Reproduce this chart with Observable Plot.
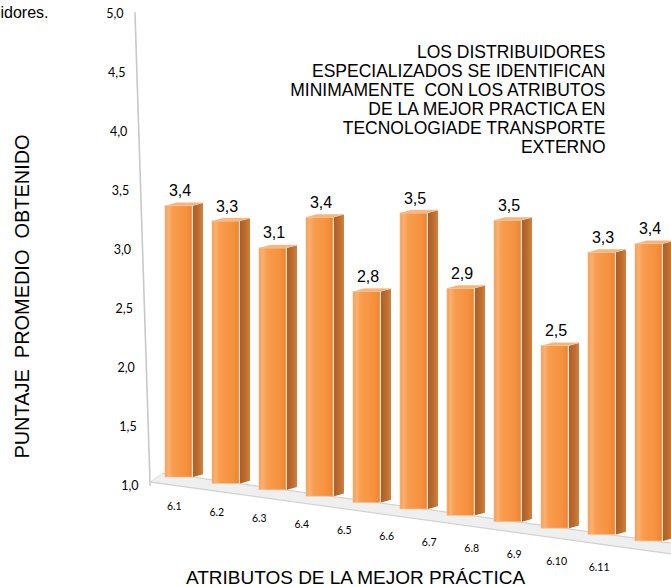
<!DOCTYPE html>
<html>
<head>
<meta charset="utf-8">
<script src="https://cdn.jsdelivr.net/npm/d3@7"></script>
<script src="https://cdn.jsdelivr.net/npm/@observablehq/plot@0.6"></script>
<style>
  html, body { margin: 0; padding: 0; background: #ffffff; }
  #chart svg { display: block; }
</style>
</head>
<body>
<div id="chart"></div>
<script>
// ---------- data ----------
const categories = ["6.1", "6.2", "6.3", "6.4", "6.5", "6.6", "6.7", "6.8", "6.9", "6.10", "6.11"];
const values = [3.4, 3.3, 3.1, 3.4, 2.8, 3.5, 2.9, 3.5, 2.5, 3.3, 3.4];
const yTicks = [1.0, 1.5, 2.0, 2.5, 3.0, 3.5, 4.0, 4.5, 5.0];
const annotationLines = [
  "LOS DISTRIBUIDORES",
  "ESPECIALIZADOS SE IDENTIFICAN",
  "MINIMAMENTE  CON LOS ATRIBUTOS",
  "DE LA MEJOR PRACTICA EN",
  "TECNOLOGIADE TRANSPORTE",
  "EXTERNO"
];
const yTitle = "PUNTAJE  PROMEDIO  OBTENIDO";
const xTitle = "ATRIBUTOS DE LA MEJOR PRÁCTICA";
const fragment = "idores.";

// ---------- build ----------
const data = categories.map((c, i) => ({cat: c, value: values[i]}));
const fmt = d => d.toFixed(1).replace(".", ",");
const ARIAL = "'Liberation Sans', Arial, sans-serif";
const CAL = "Lato, 'Open Sans', sans-serif";

const plot = Plot.plot({
  width: 671,
  height: 587,
  marginTop: 13,
  marginBottom: 102,
  marginLeft: 135,
  marginRight: 0,
  style: {background: "#ffffff", color: "#000000"},
  x: {type: "band", domain: categories, range: [151, 678], padding: 0, axis: null},
  y: {domain: [1, 5], axis: null},
  marks: [
    // back-wall left edge
    Plot.frame({anchor: "left", stroke: "#c8c8c8", strokeWidth: 1.6}),
    // floor
    Plot.rect([0], {y1: 1, y2: 1, insetTop: -12, insetBottom: 3, insetLeft: 15,
      fill: "#efefef", stroke: "#d2d2d2", strokeWidth: 1}),
    // bar side faces
    Plot.barY(data, {x: "cat", y1: 1, y2: "value", insetLeft: 36.9, insetRight: 0,
      fill: "url(#sideGrad)"}),
    // bar front faces
    Plot.barY(data, {x: "cat", y1: 1, y2: "value", insetLeft: 9, insetRight: 11,
      fill: "url(#frontGrad)", stroke: "#f8c193", strokeWidth: 0.7}),
    // bar top faces
    Plot.barY(data, {x: "cat", y1: "value", y2: "value", insetLeft: 9, insetRight: 11, insetTop: -3,
      fill: "#f9b47a", stroke: "#f3c9a3", strokeWidth: 0.5}),
    // value labels
    Plot.text(data, {x: "cat", y: "value", text: d => fmt(d.value), lineAnchor: "bottom",
      dy: -8, fontSize: 16, fontFamily: ARIAL, fill: "#000000"}),
    // y tick labels
    Plot.text(yTicks, {y: d => d, text: fmt, frameAnchor: "left", textAnchor: "end", dx: -12,
      fontSize: 12.5, fontFamily: CAL, fill: "#000000"}),
    // x tick labels
    Plot.text(categories, {x: d => d, y: () => 1, text: d => d, lineAnchor: "middle",
      fontSize: 10.5, fontFamily: CAL, fill: "#000000"}),
    // annotation
    Plot.text([annotationLines.join("\n")], {frameAnchor: "top-right", textAnchor: "end", lineAnchor: "top",
      lineHeight: 1.045, fontSize: 17.5, fontFamily: ARIAL, fill: "#000000", dx: -66, dy: 31}),
    // y axis title (placed and rotated below)
    Plot.text([yTitle], {frameAnchor: "left", textAnchor: "middle", lineAnchor: "middle", fontSize: 21,
      fontFamily: ARIAL, fill: "#000000"}),
    // x axis title
    Plot.text([xTitle], {frameAnchor: "bottom", lineAnchor: "middle", fontSize: 19,
      fontFamily: ARIAL, fill: "#000000", dx: -48, dy: 92}),
    // cut-off fragment of the surrounding document
    Plot.text([fragment], {frameAnchor: "top-left", textAnchor: "start", lineAnchor: "top",
      fontSize: 16, fontFamily: ARIAL, fill: "#000000", dx: -135, dy: -7})
  ]
});

document.getElementById("chart").appendChild(plot);

// ---------- gradients ----------
const svg = d3.select(plot);
const defs = svg.insert("defs", ":first-child");
const fg = defs.append("linearGradient").attr("id", "frontGrad").attr("x1", 0).attr("x2", 1).attr("y1", 0).attr("y2", 0);
[[0, "#f59a4c"], [0.12, "#fab173"], [0.3, "#f89c4d"], [0.75, "#f6923f"], [1, "#ec8532"]]
  .forEach(([o, c]) => fg.append("stop").attr("offset", o).attr("stop-color", c));
const sg = defs.append("linearGradient").attr("id", "sideGrad").attr("x1", 0).attr("x2", 1).attr("y1", 0).attr("y2", 0);
[[0, "#a8602a"], [0.6, "#bf6e30"], [1, "#d3823f"]]
  .forEach(([o, c]) => sg.append("stop").attr("offset", o).attr("stop-color", c));

// ---------- locate the mark layers (in mark order) ----------
const layer = (lab, k) => d3.select(plot.querySelectorAll(`:scope > [aria-label="${lab}"]`)[k]);
const gWall = layer("frame", 0);
const gFloor = layer("rect", 0);
const gSide = layer("bar", 0), gFront = layer("bar", 1), gTop = layer("bar", 2);
const gVal = layer("text", 0), gYTick = layer("text", 1), gXTick = layer("text", 2);
const gNote = layer("text", 3), gYTitle = layer("text", 4), gXTitle = layer("text", 5);

// ---------- perspective projection ----------
const xs = plot.scale("x"), ys = plot.scale("y");
const bw = xs.bandwidth;
const X0 = xs.apply(categories[0]) + bw / 2;
const Y1 = ys.apply(1);
const YT = ys.apply(5);
const unit = ys.apply(1) - ys.apply(2);
const baseAt = cx => Y1 - 8 + 0.136 * (cx - X0);
const sAt = cx => (113 + 0.023 * (cx - X0)) / unit;
const warpY = (y, cx) => baseAt(cx) + (y - Y1) * sAt(cx);
const centerOf = el => {
  const i = el.__data__;
  if (typeof i === "number" && data[i]) return xs.apply(data[i].cat) + bw / 2;
  return +el.getAttribute("x") + (+el.getAttribute("width")) / 2;
};
const parseT = el => {
  const t = el.getAttribute("transform") || "";
  const m = t.match(/translate\(\s*([-\d.e+]+)[\s,]+([-\d.e+]+)\s*\)/);
  if (!m) return null;
  return {x: +m[1], y: +m[2], rest: t.replace(m[0], "")};
};

// wall edge leans slightly
gWall.attr("transform", `translate(135,${YT}) matrix(1,0,0.032,1,0,0) translate(-135,${-YT})`);
// floor plane
gFloor.attr("transform", `translate(150,${Y1 - 3}) matrix(1,0.138,-1.44,1,0,0) translate(-150,${-(Y1 - 3)})`);

gFront.selectAll("rect").each(function() {
  const cx = centerOf(this);
  const y = +this.getAttribute("y"), h = +this.getAttribute("height");
  const t = warpY(y, cx), b = warpY(y + h, cx);
  this.setAttribute("y", t); this.setAttribute("height", b - t);
});
gSide.selectAll("rect").each(function() {
  const cx = centerOf(this);
  const x = +this.getAttribute("x");
  const y = +this.getAttribute("y"), h = +this.getAttribute("height");
  const t = warpY(y, cx), b = warpY(y + h, cx);
  this.setAttribute("y", t); this.setAttribute("height", b - t);
  this.setAttribute("transform", `translate(${x},0) skewY(-15) translate(${-x},0)`);
});
gTop.selectAll("rect").each(function() {
  const cx = centerOf(this);
  const y = +this.getAttribute("y"), h = +this.getAttribute("height");
  const b = warpY(y + h, cx);
  this.setAttribute("y", b - 3); this.setAttribute("height", 3);
  this.setAttribute("transform", `translate(0,${b}) skewX(-74.7) translate(0,${-b})`);
});
gVal.selectAll("text").each(function() {
  const p = parseT(this); if (!p) return;
  this.setAttribute("transform", `translate(${p.x},${warpY(p.y, p.x)})${p.rest}`);
});
gYTick.selectAll("text").each(function() {
  const p = parseT(this); if (!p) return;
  this.setAttribute("transform", `translate(${p.x + 0.032 * (p.y - YT)},${p.y})${p.rest}`);
});
gXTick.selectAll("text").each(function() {
  const p = parseT(this); if (!p) return;
  const nx = X0 - 8 + 0.904 * (p.x - X0);
  const ny = Y1 + 24 + 0.143 * (nx - (X0 - 8));
  this.setAttribute("transform", `translate(${nx},${ny})${p.rest}`);
});
// slightly taller lettering for the annotation block
gNote.selectAll("text").each(function() {
  const p = parseT(this); if (!p) return;
  this.setAttribute("transform", `translate(${p.x},${p.y})${p.rest} scale(1,1.04)`);
});
// y title: rotate and condense along its baseline
gYTitle.selectAll("text").each(function() {
  const p = parseT(this); if (!p) return;
  this.setAttribute("transform", `translate(${p.x - 113},${p.y + 47}) rotate(-90) scale(0.95,1)`);
});
</script>
</body>
</html>
